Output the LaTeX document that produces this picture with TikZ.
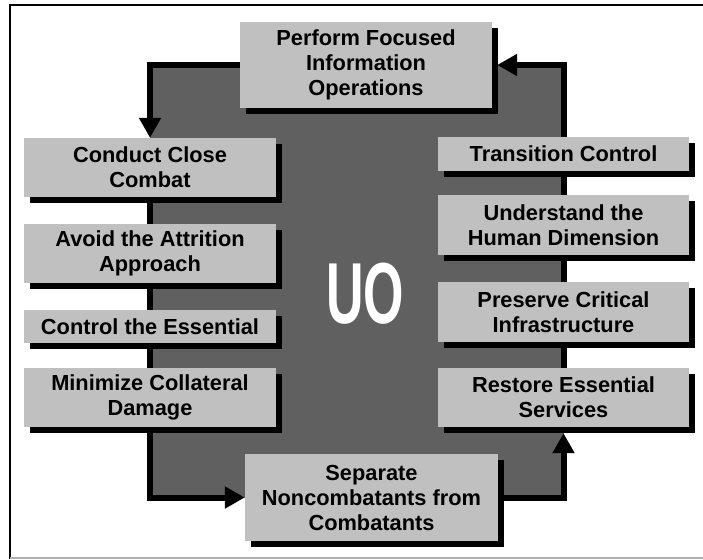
\documentclass[tikz,border=0pt]{standalone}
\usepackage{fontspec}
\setmainfont{Liberation Sans}
\usetikzlibrary{arrows.meta,shadows}
\definecolor{boxgrey}{HTML}{C0C0C0}
\definecolor{darkfill}{HTML}{606060}
\definecolor{framegrey}{HTML}{B0B0B0}
\tikzset{
  box/.style={fill=boxgrey, draw=none, align=center, inner sep=0pt,
    font=\bfseries\fontsize{21.8}{25}\selectfont,
    drop shadow={shadow xshift=6pt, shadow yshift=-6pt, fill=black, opacity=1}},
  flow/.style={line width=6pt, line join=miter, -{Triangle[length=20pt,width=21pt]}},
  link/.style={line width=6pt},
}
\begin{document}
\begin{tikzpicture}[x=1pt,y=-1pt]
\useasboundingbox (0,0) rectangle (703,559);
% frame
\draw[black, line width=2pt] (10,559) -- (10,5) -- (703,5);
\draw[framegrey, line width=1.5pt] (10,558) -- (703,558);
% dark square
\fill[darkfill] (150,65) rectangle (563.5,497.5);
% boxes
\node[box, minimum width=252pt, minimum height=86pt] (perf) at (366,65) {Perform Focused\\Information\\Operations};
\node[box, minimum width=252pt, minimum height=59pt] (cc) at (150,167.5) {Conduct Close\\Combat};
\node[box, minimum width=252pt, minimum height=59pt] (aa) at (150,253.5) {Avoid the Attrition\\Approach};
\node[box, minimum width=252pt, minimum height=33pt] (ce) at (150,326.5) {Control the Essential};
\node[box, minimum width=252pt, minimum height=59pt] (mcd) at (150,397.5) {Minimize Collateral\\Damage};
\node[box, minimum width=253pt, minimum height=87pt] (sep) at (371.5,497.5) {Separate\\Noncombatants from\\Combatants};
\node[box, minimum width=251pt, minimum height=34pt] (tc) at (563.5,154) {Transition Control};
\node[box, minimum width=251pt, minimum height=60pt] (uhd) at (563.5,225) {Understand the\\Human Dimension};
\node[box, minimum width=251pt, minimum height=60pt] (pci) at (563.5,312) {Preserve Critical\\Infrastructure};
\node[box, minimum width=251pt, minimum height=59pt] (res) at (563.5,397.5) {Restore Essential\\Services};
% connectors
\draw[flow] (perf.west) -| (cc.north);
\draw[link] (cc.south) -- (aa.north);
\draw[link] (aa.south) -- (ce.north);
\draw[link] (ce.south) -- (mcd.north);
\draw[flow] (mcd.south) |- (sep.west);
\draw[flow] (sep.east) -| ([yshift=-6pt]res.south);
\draw[link] (res.north) -- (pci.south);
\draw[link] (pci.north) -- (uhd.south);
\draw[link] (uhd.north) -- (tc.south);
\draw[flow] (tc.north) |- ([xshift=5pt]perf.east);
% center label
\node[anchor=base, inner sep=0pt, text=white] (uo) at (365,323)
  {\scalebox{0.6}[1]{\fontsize{86.6}{90}\selectfont\bfseries UO}};
\end{tikzpicture}
\end{document}
